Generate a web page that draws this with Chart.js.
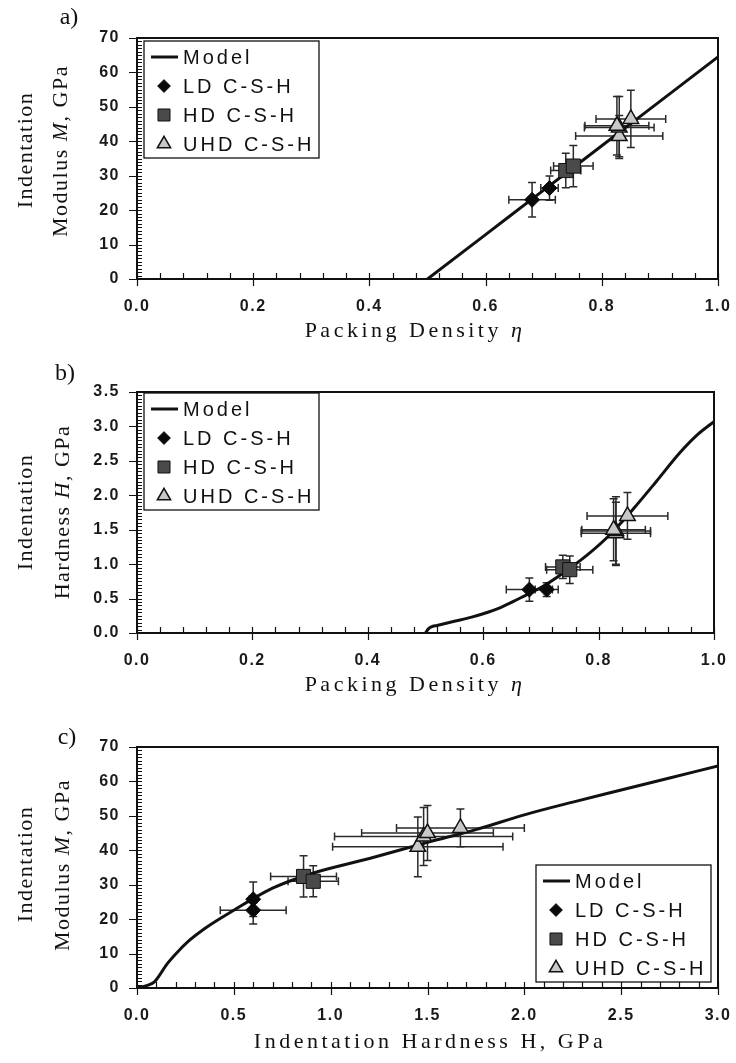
<!DOCTYPE html>
<html>
<head>
<meta charset="utf-8">
<script src="https://cdn.jsdelivr.net/npm/chart.js@4.4.1/dist/chart.umd.min.js"></script>
<style>
  body { margin: 0; background: #fff; }
  #page { position: relative; width: 736px; height: 1063px; overflow: hidden; }
  canvas { position: absolute; left: 0; }
  .lbl { position: absolute; font-family: 'Liberation Serif', 'Times New Roman', serif; color: #111;
         white-space: nowrap; transform: translate(-50%, -50%); }
  .ytitle { transform: translate(-50%, -50%) rotate(-90deg); font-size: 22px; letter-spacing: 1.5px; }
  .xtitle { font-size: 22px; letter-spacing: 3.5px; }
  .panel { font-size: 24px; }
</style>
</head>
<body>
<div id="page">
  <canvas id="chartA" width="736" height="345" style="top:0"></canvas>
  <canvas id="chartB" width="736" height="350" style="top:350px"></canvas>
  <canvas id="chartC" width="736" height="358" style="top:705px"></canvas>

  <div class="lbl panel" style="left:69px;top:16px">a)</div>
  <div class="lbl ytitle" style="left:25px;top:150px">Indentation</div>
  <div class="lbl ytitle" style="left:60px;top:151px">Modulus <i>M</i>, GPa</div>
  <div class="lbl xtitle" style="left:415px;top:330px">Packing Density <i>η</i></div>

  <div class="lbl panel" style="left:65px;top:372px">b)</div>
  <div class="lbl ytitle" style="left:25px;top:512px">Indentation</div>
  <div class="lbl ytitle" style="left:62px;top:512px">Hardness <i>H</i>, GPa</div>
  <div class="lbl xtitle" style="left:415px;top:684px">Packing Density <i>η</i></div>

  <div class="lbl panel" style="left:67px;top:736px">c)</div>
  <div class="lbl ytitle" style="left:25px;top:864px">Indentation</div>
  <div class="lbl ytitle" style="left:62px;top:865px">Modulus <i>M</i>, GPa</div>
  <div class="lbl xtitle" style="left:430px;top:1041px">Indentation Hardness H, GPa</div>
</div>
<script>
// a) indentation modulus vs packing density
var etaModelA = [0.5, 0.6, 0.7, 0.8, 0.9, 1.0];
var modModelA = [0, 12.9, 25.8, 38.7, 51.6, 64.5];
var ldEtaA = [0.68, 0.71];
var ldModA = [23.0, 26.4];
var ldEtaErrA = [0.04, 0.015];
var ldModErrA = [5.0, 3.5];
var hdEtaA = [0.738, 0.751];
var hdModA = [31.5, 32.8];
var hdEtaErrA = [0.026, 0.034];
var hdModErrA = [5.0, 6.0];
var uhdEtaA = [0.83, 0.83, 0.826, 0.85];
var uhdModA = [41.5, 44.0, 44.5, 46.5];
var uhdEtaErrA = [0.075, 0.06, 0.055, 0.06];
var uhdModErrA = [6.0, 9.0, 8.5, 8.3];

// b) indentation hardness vs packing density
var etaModelB = [0.5, 0.505, 0.51, 0.52, 0.55, 0.58, 0.6, 0.63, 0.66, 0.7, 0.74, 0.78, 0.82, 0.86, 0.9, 0.94, 0.97, 1.0];
var hardModelB = [0, 0.06, 0.09, 0.11, 0.17, 0.23, 0.28, 0.37, 0.49, 0.66, 0.88, 1.13, 1.43, 1.8, 2.2, 2.61, 2.87, 3.07];
var ldEtaB = [0.68, 0.71];
var ldHardB = [0.63, 0.63];
var ldEtaErrB = [0.04, 0.02];
var ldHardErrB = [0.17, 0.1];
var hdEtaB = [0.738, 0.75];
var hdHardB = [0.96, 0.92];
var hdEtaErrB = [0.03, 0.04];
var hdHardErrB = [0.17, 0.2];
var uhdEtaB = [0.83, 0.83, 0.826, 0.85];
var uhdHardB = [1.45, 1.48, 1.50, 1.70];
var uhdEtaErrB = [0.06, 0.06, 0.055, 0.07];
var uhdHardErrB = [0.45, 0.5, 0.45, 0.34];

// c) indentation modulus vs indentation hardness
var hardModelC = [0, 0.05, 0.09, 0.12, 0.15, 0.2, 0.27, 0.35, 0.5, 0.7, 0.9, 1.2, 1.5, 1.75, 2.0, 2.25, 2.5, 2.75, 3.0];
var modModelC = [0, 0.7, 1.8, 4.0, 6.6, 9.9, 13.8, 17.3, 22.6, 29.0, 33.2, 37.6, 42.3, 46.0, 50.3, 54.0, 57.5, 61.0, 64.5];
var ldHardC = [0.6, 0.6];
var ldModC = [22.6, 25.8];
var ldHardErrC = [0.17, 0.02];
var ldModErrC = [4.0, 5.0];
var hdHardC = [0.86, 0.91];
var hdModC = [32.4, 31.0];
var hdHardErrC = [0.17, 0.13];
var hdModErrC = [6.0, 4.5];
var uhdHardC = [1.45, 1.48, 1.50, 1.67];
var uhdModC = [41.0, 44.0, 45.0, 46.5];
var uhdHardErrC = [0.44, 0.46, 0.34, 0.33];
var uhdModErrC = [8.7, 8.4, 8.0, 5.5];

var sansFont = '"Liberation Sans Narrow", "Liberation Sans", Arial, sans-serif';
Chart.defaults.font.family = sansFont;
Chart.defaults.font.size = 16;
Chart.defaults.font.weight = 'bold';
Chart.defaults.color = '#1a1a1a';

function pts(xs, ys) {
  return xs.map(function (x, i) { return { x: x, y: ys[i] }; });
}

// crosshair error bars, drawn beneath the markers
var errorBars = {
  id: 'errorBars',
  beforeDatasetsDraw: function (chart) {
    var ctx = chart.ctx, sx = chart.scales.x, sy = chart.scales.y;
    ctx.save();
    ctx.strokeStyle = '#2a2a2a';
    ctx.lineWidth = 1.5;
    chart.data.datasets.forEach(function (ds) {
      if (!ds.errX) return;
      ds.data.forEach(function (p, i) {
        var px = sx.getPixelForValue(p.x), py = sy.getPixelForValue(p.y);
        var x0 = sx.getPixelForValue(p.x - ds.errX[i]), x1 = sx.getPixelForValue(p.x + ds.errX[i]);
        var y0 = sy.getPixelForValue(p.y - ds.errY[i]), y1 = sy.getPixelForValue(p.y + ds.errY[i]);
        ctx.beginPath();
        ctx.moveTo(x0, py); ctx.lineTo(x1, py);
        ctx.moveTo(x0, py - 4); ctx.lineTo(x0, py + 4);
        ctx.moveTo(x1, py - 4); ctx.lineTo(x1, py + 4);
        ctx.moveTo(px, y0); ctx.lineTo(px, y1);
        ctx.moveTo(px - 4, y0); ctx.lineTo(px + 4, y0);
        ctx.moveTo(px - 4, y1); ctx.lineTo(px + 4, y1);
        ctx.stroke();
      });
    });
    ctx.restore();
  }
};

// boxed frame with major and minor tick marks
var frameTicks = {
  id: 'frameTicks',
  beforeDraw: function (chart) {
    chart.ctx.letterSpacing = '1.5px';
  },
  afterDraw: function (chart, args, opts) {
    var ctx = chart.ctx, a = chart.chartArea, sx = chart.scales.x, sy = chart.scales.y;
    var i, n, v, p, major;
    ctx.save();
    ctx.strokeStyle = '#111';
    ctx.lineWidth = 1.2;
    ctx.beginPath();
    n = Math.round((sx.max - sx.min) / opts.xMinor);
    for (i = 0; i <= n; i++) {
      v = sx.min + i * opts.xMinor;
      p = Math.round(sx.getPixelForValue(v)) + 0.5;
      major = i % opts.xEvery === 0;
      ctx.moveTo(p, a.bottom + (major ? 7 : 0));
      ctx.lineTo(p, a.bottom - 6);
    }
    n = Math.round((sy.max - sy.min) / opts.yMinor);
    for (i = 0; i <= n; i++) {
      v = sy.min + i * opts.yMinor;
      p = Math.round(sy.getPixelForValue(v)) + 0.5;
      major = i % opts.yEvery === 0;
      ctx.moveTo(a.left - (major ? 8 : 0), p);
      ctx.lineTo(a.left + 5, p);
    }
    ctx.stroke();
    ctx.lineWidth = 2;
    ctx.strokeRect(a.left, a.top, a.right - a.left, a.bottom - a.top);
    ctx.restore();
  }
};

// legend box placed inside the plot
var boxLegend = {
  id: 'boxLegend',
  afterDraw: function (chart, args, opts) {
    var ctx = chart.ctx, x = opts.left, y = opts.top, w = 175, h = 117;
    ctx.save();
    ctx.fillStyle = '#fff';
    ctx.fillRect(x, y, w, h);
    ctx.strokeStyle = '#111';
    ctx.lineWidth = 1.3;
    ctx.strokeRect(x, y, w, h);
    ctx.font = '20px ' + sansFont;
    ctx.letterSpacing = '3px';
    ctx.textBaseline = 'middle';
    chart.data.datasets.forEach(function (ds, i) {
      var cy = y + 16 + i * 29;
      if (ds.showLine) {
        ctx.lineWidth = 3;
        ctx.strokeStyle = '#111';
        ctx.beginPath();
        ctx.moveTo(x + 7, cy);
        ctx.lineTo(x + 34, cy);
        ctx.stroke();
      } else {
        ctx.fillStyle = ds.backgroundColor;
        ctx.strokeStyle = ds.borderColor;
        ctx.lineWidth = ds.borderWidth;
        Chart.helpers.drawPoint(ctx, { pointStyle: ds.pointStyle, radius: ds.pointRadius * 0.85, rotation: 0, borderWidth: ds.borderWidth }, x + 20, cy);
      }
      ctx.fillStyle = '#111';
      ctx.fillText(ds.label, x + 39, cy + 1);
    });
    ctx.restore();
  }
};

function makeDatasets(model, ld, hd, uhd) {
  return [
    { label: 'Model', data: model, showLine: true, borderColor: '#111', borderWidth: 3,
      pointRadius: 0, cubicInterpolationMode: 'monotone', order: 5 },
    { label: 'LD C-S-H', data: ld.data, errX: ld.ex, errY: ld.ey, pointStyle: 'rectRot', pointRadius: 7.5,
      backgroundColor: '#0a0a0a', borderColor: '#0a0a0a', borderWidth: 1, order: 1 },
    { label: 'HD C-S-H', data: hd.data, errX: hd.ex, errY: hd.ey, pointStyle: 'rect', pointRadius: 10,
      backgroundColor: '#4a4a4a', borderColor: '#111', borderWidth: 1, order: 1 },
    { label: 'UHD C-S-H', data: uhd.data, errX: uhd.ex, errY: uhd.ey, pointStyle: 'triangle', pointRadius: 9,
      backgroundColor: '#c8c8c8', borderColor: '#111', borderWidth: 1.5, order: 0 }
  ];
}

function makeChart(id, datasets, xr, yr, pad, legendPos, tickOpts) {
  return new Chart(document.getElementById(id), {
    type: 'scatter',
    data: { datasets: datasets },
    options: {
      responsive: false,
      animation: false,
      layout: { padding: pad },
      plugins: { legend: { display: false }, tooltip: { enabled: false },
                 boxLegend: legendPos, frameTicks: tickOpts },
      scales: {
        x: {
          type: 'linear', min: xr.min, max: xr.max,
          afterFit: function (s) { s.height = 40; s.paddingLeft = 0; s.paddingRight = 0; },
          grid: { display: false, drawTicks: false }, border: { display: false },
          ticks: { stepSize: xr.step, padding: 18, maxRotation: 0, autoSkip: false,
                   callback: function (v) { return v.toFixed(1); } }
        },
        y: {
          type: 'linear', min: yr.min, max: yr.max,
          afterFit: function (s) { s.width = 50; s.paddingTop = 0; s.paddingBottom = 0; },
          grid: { display: false, drawTicks: false }, border: { display: false },
          ticks: { stepSize: yr.step, padding: 17, autoSkip: false,
                   callback: function (v) { return yr.dec ? v.toFixed(yr.dec) : String(Math.round(v)); } }
        }
      }
    },
    plugins: [errorBars, frameTicks, boxLegend]
  });
}

makeChart('chartA',
  makeDatasets(pts(etaModelA, modModelA),
    { data: pts(ldEtaA, ldModA), ex: ldEtaErrA, ey: ldModErrA },
    { data: pts(hdEtaA, hdModA), ex: hdEtaErrA, ey: hdModErrA },
    { data: pts(uhdEtaA, uhdModA), ex: uhdEtaErrA, ey: uhdModErrA }),
  { min: 0, max: 1, step: 0.2 }, { min: 0, max: 70, step: 10, dec: 0 },
  { left: 87, right: 18, top: 38, bottom: 26 },
  { left: 144, top: 41 },
  { xMinor: 0.04, xEvery: 5, yMinor: 1, yEvery: 10 });

makeChart('chartB',
  makeDatasets(pts(etaModelB, hardModelB),
    { data: pts(ldEtaB, ldHardB), ex: ldEtaErrB, ey: ldHardErrB },
    { data: pts(hdEtaB, hdHardB), ex: hdEtaErrB, ey: hdHardErrB },
    { data: pts(uhdEtaB, uhdHardB), ex: uhdEtaErrB, ey: uhdHardErrB }),
  { min: 0, max: 1, step: 0.2 }, { min: 0, max: 3.5, step: 0.5, dec: 1 },
  { left: 87, right: 22, top: 42, bottom: 27 },
  { left: 144, top: 43 },
  { xMinor: 0.04, xEvery: 5, yMinor: 0.05, yEvery: 10 });

makeChart('chartC',
  makeDatasets(pts(hardModelC, modModelC),
    { data: pts(ldHardC, ldModC), ex: ldHardErrC, ey: ldModErrC },
    { data: pts(hdHardC, hdModC), ex: hdHardErrC, ey: hdModErrC },
    { data: pts(uhdHardC, uhdModC), ex: uhdHardErrC, ey: uhdModErrC }),
  { min: 0, max: 3, step: 0.5 }, { min: 0, max: 70, step: 10, dec: 0 },
  { left: 87, right: 18, top: 42, bottom: 35 },
  { left: 536, top: 160 },
  { xMinor: 0.1, xEvery: 5, yMinor: 1, yEvery: 10 });
</script>
</body>
</html>
